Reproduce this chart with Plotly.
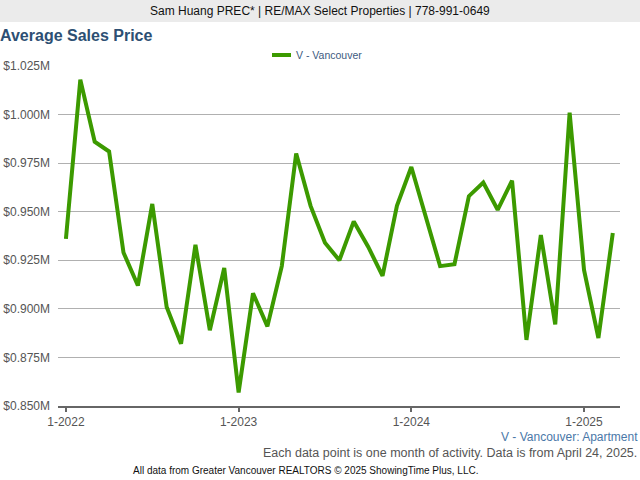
import plotly.graph_objects as go

months = [f"{m}-{y}" for y in (2022, 2023, 2024, 2025) for m in range(1, 13)][:39]
prices = [0.936, 1.018, 0.986, 0.981, 0.929, 0.912, 0.954, 0.901, 0.882, 0.933, 0.889, 0.921,
          0.857, 0.908, 0.891, 0.922, 0.980, 0.953, 0.934, 0.925, 0.945, 0.932, 0.917, 0.953,
          0.973, 0.948, 0.922, 0.923, 0.958, 0.965, 0.951, 0.966, 0.884, 0.938, 0.892, 1.001,
          0.920, 0.885, 0.939]
y_ticks = [0.850, 0.875, 0.900, 0.925, 0.950, 0.975, 1.000, 1.025]
y_tick_labels = ["$0.850M", "$0.875M", "$0.900M", "$0.925M", "$0.950M", "$0.975M", "$1.000M", "$1.025M"]
x_ticks = ["1-2022", "1-2023", "1-2024", "1-2025"]

W, H = 640, 480
L, R, T, B = 58, 620, 66, 406
pw, ph = R - L, B - T


def px(x):
    return (x - L) / pw


def py(y):
    return (B - y) / ph


FONT = "Liberation Sans, Arial, sans-serif"
GREEN = "#3c9a00"

fig = go.Figure()
fig.add_trace(go.Scatter(x=months, y=prices, mode="lines",
                         line=dict(color=GREEN, width=4), showlegend=False,
                         hoverinfo="skip"))

fig.update_layout(
    width=W, height=H,
    margin=dict(l=L, r=W - R, t=T, b=H - B, pad=0, autoexpand=False),
    paper_bgcolor="white", plot_bgcolor="white",
    font=dict(family=FONT, size=12, color="#555"),
    xaxis=dict(type="category", range=[-0.55, 38.5], tickvals=x_ticks, ticktext=x_ticks,
               showgrid=False, zeroline=False, showline=True, linecolor="#666", linewidth=2,
               ticks="outside", ticklen=4, tickwidth=2, tickcolor="#666", automargin=False,
               tickfont=dict(size=12, color="#555")),
    yaxis=dict(range=[0.850, 1.025], tickvals=y_ticks, ticktext=y_tick_labels,
               showgrid=True, gridcolor="#b0b0b0", gridwidth=1, zeroline=False,
               showline=False, ticks="", ticklabelstandoff=7, automargin=False,
               tickfont=dict(size=12, color="#555")),
    shapes=[
        dict(type="rect", xref="paper", yref="paper", x0=px(0), x1=px(W), y0=py(22), y1=py(0),
             fillcolor="#ebebeb", line=dict(width=0), layer="below"),
        dict(type="line", xref="paper", yref="paper", x0=px(272), x1=px(291), y0=py(55), y1=py(55),
             line=dict(color=GREEN, width=4)),
    ],
    annotations=[
        dict(text="Sam Huang PREC* | RE/MAX Select Properties | 778-991-0649", xref="paper", yref="paper",
             x=px(320), y=py(11), xanchor="center", yanchor="middle", showarrow=False,
             font=dict(size=12, color="#111")),
        dict(text="<b>Average Sales Price</b>", xref="paper", yref="paper",
             x=px(-2), y=py(35), xanchor="left", yanchor="middle", showarrow=False,
             font=dict(size=16, color="#2d4f73")),
        dict(text="V - Vancouver", xref="paper", yref="paper",
             x=px(294), y=py(55), xanchor="left", yanchor="middle", showarrow=False,
             font=dict(size=10.5, color="#3d5a80")),
        dict(text="V - Vancouver: Apartment", xref="paper", yref="paper",
             x=px(640), y=py(437), xanchor="right", yanchor="middle", showarrow=False,
             font=dict(size=12, color="#4a78a8")),
        dict(text="Each data point is one month of activity. Data is from April 24, 2025.", xref="paper",
             yref="paper", x=px(639), y=py(453), xanchor="right", yanchor="middle", showarrow=False,
             font=dict(size=12.5, color="#555")),
        dict(text="All data from Greater Vancouver REALTORS © 2025 ShowingTime Plus, LLC.", xref="paper",
             yref="paper", x=px(305), y=py(470), xanchor="center", yanchor="middle", showarrow=False,
             font=dict(size=10, color="#111")),
    ],
)

fig.write_html("out.html")
